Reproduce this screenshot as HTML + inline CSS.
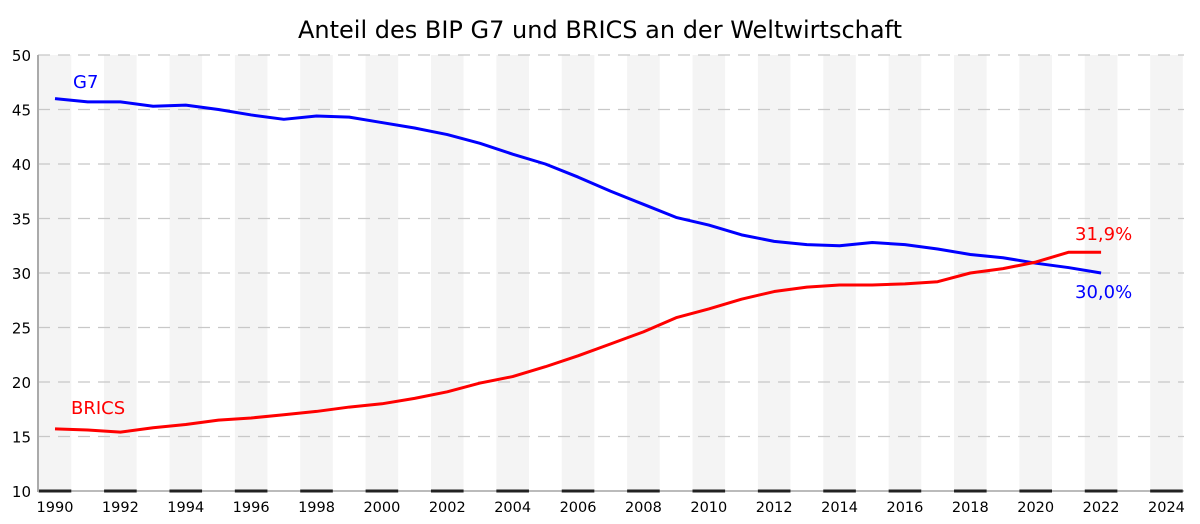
<!DOCTYPE html>
<html><head><meta charset="utf-8"><style>
body{margin:0;background:#fff}
svg{display:block;font-family:"DejaVu Sans","Liberation Sans",sans-serif}
</style></head><body>
<svg id="chart" width="1200" height="524" viewBox="0 0 1200 524">
<text x="600" y="38" text-anchor="middle" font-size="24" fill="#000">Anteil des BIP G7 und BRICS an der Weltwirtschaft</text>
<g id="bands"></g><g id="grid"></g><g id="base"></g><g id="axes"></g><g id="series"></g><g id="labels"></g>
</svg>
<script>
const years=[1990,1991,1992,1993,1994,1995,1996,1997,1998,1999,2000,2001,2002,2003,2004,2005,2006,2007,2008,2009,2010,2011,2012,2013,2014,2015,2016,2017,2018,2019,2020,2021,2022];
const g7=[46.0,45.7,45.7,45.3,45.4,45.0,44.5,44.1,44.4,44.3,43.8,43.3,42.7,41.9,40.9,40.0,38.8,37.5,36.3,35.1,34.4,33.5,32.9,32.6,32.5,32.8,32.6,32.2,31.7,31.4,30.9,30.5,30.0];
const brics=[15.7,15.6,15.4,15.8,16.1,16.5,16.7,17.0,17.3,17.7,18.0,18.5,19.1,19.9,20.5,21.4,22.4,23.5,24.6,25.9,26.7,27.6,28.3,28.7,28.9,28.9,29.0,29.2,30.0,30.4,31.0,31.9,31.9];
const yTicks=[10,15,20,25,30,35,40,45,50];
const xTicks=[1990,1992,1994,1996,1998,2000,2002,2004,2006,2008,2010,2012,2014,2016,2018,2020,2022,2024];
const NS="http://www.w3.org/2000/svg";
const X=y=>55+(y-1990)*32.69;
const Y=v=>55+(50-v)*10.9;
function mk(p,t,a){const e=document.createElementNS(NS,t);for(const k in a)e.setAttribute(k,a[k]);document.getElementById(p).appendChild(e);return e;}
const ax2=mk('base','line',{x1:38,x2:1184,y1:491,y2:491,stroke:'#bbb','stroke-width':2});


xTicks.forEach(t=>{
  const b=mk('bands','rect',{x:X(t)-16.3,y:55,width:32.6,height:436,fill:'#f4f4f4'});
  
  
  const s=mk('axes','line',{x1:X(t)-16.3,x2:X(t)+16.3,y1:491,y2:491,stroke:'#222','stroke-width':3});
  
  
  const l=mk('axes','text',{x:X(t),y:512,'text-anchor':'middle','font-size':14.5,fill:'#000'});
  l.textContent=t;
  
  
});
yTicks.forEach(v=>{
  if(v>10){const g=mk('grid','line',{x1:38,x2:1184,y1:Y(v),y2:Y(v),stroke:'#c8c8c8','stroke-width':1.3,'stroke-dasharray':'12,8'});
  
  }
  const l=mk('axes','text',{x:31,y:Y(v)+6,'text-anchor':'end','font-size':15,fill:'#000'});
  l.textContent=v;
  
  
});
const ax=mk('axes','line',{x1:38,x2:38,y1:55,y2:492,stroke:'#aaa','stroke-width':2});


function line(vals,col,name){
  const p=mk('series','polyline',{points:vals.map((v,i)=>X(years[i])+','+Y(v)).join(' '),fill:'none',stroke:col,'stroke-width':3,'stroke-linejoin':'round'});
  
  
}
line(g7,'#0000ff','g7-line');
line(brics,'#ff0000','brics-line');
function lab(x,y,t,col,name){const e=mk('labels','text',{x:x,y:y,'font-size':18,fill:col});e.textContent=t;
  
  }
lab(73,88,'G7','#0000ff','g7-label');
lab(71,414,'BRICS','#ff0000','brics-label');
lab(1075,240,'31,9%','#ff0000','brics-end-value');
lab(1075,298,'30,0%','#0000ff','g7-end-value');
</script>
</body></html>
